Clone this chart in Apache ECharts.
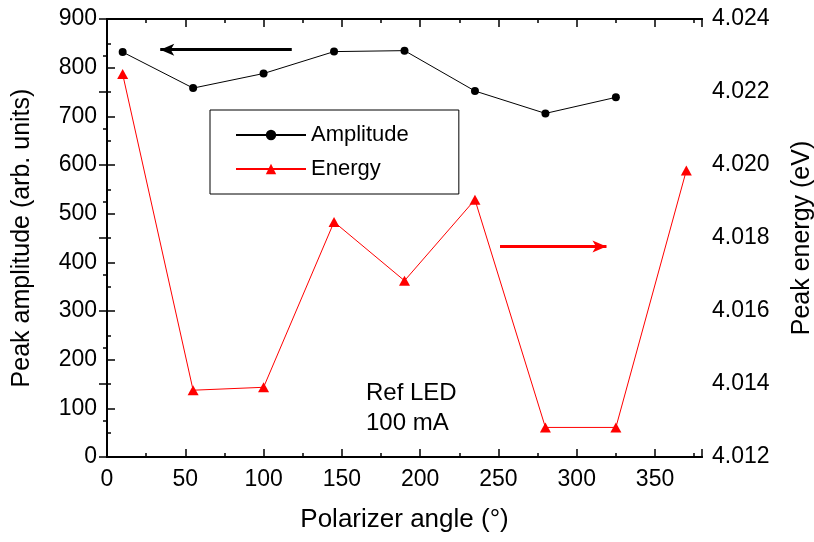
<!DOCTYPE html>
<html>
<head>
<meta charset="utf-8">
<script src="https://cdn.jsdelivr.net/npm/echarts@6/dist/echarts.min.js"></script>
<style>
html,body{margin:0;padding:0;background:#fff;}
#chart{width:814px;height:542px;}
</style>
</head>
<body>
<div id="chart"></div>
<script>
// ---- data ----
const angles = [10, 55, 100, 145, 190, 235, 280, 325, 370];
const amplitude = [832, 758, 788, 833, 835, 752, 706, 739];
const energy = [4.02249, 4.01383, 4.01391, 4.01844, 4.01683, 4.01905, 4.01281, 4.01281, 4.01985];
const seriesNames = ['Amplitude', 'Energy'];
const xTitle = 'Polarizer angle (°)';
const yLeftTitle = 'Peak amplitude (arb. units)';
const yRightTitle = 'Peak energy (eV)';
const noteLines = ['Ref LED', '100 mA'];
// arrow annotations (data coordinates)
const ampArrow = [[118, 837], [34, 837]];
const energyArrow = [[251, 4.01777], [319, 4.01777]];

const FONT = '"Liberation Sans", Arial, sans-serif';
const ampData = amplitude.map((v, i) => [angles[i], v]);
const energyData = energy.map((v, i) => [angles[i], v]);

const chart = echarts.init(document.getElementById('chart'), null, {renderer: 'canvas'});

function xAx(pos, interval, len, showLabel, showName) {
  return {
    type: 'value', position: pos, min: 0, max: 380, interval: interval,
    name: showName ? xTitle : '', nameLocation: 'middle', nameGap: 50,
    nameTextStyle: {fontFamily: FONT, fontSize: 26, color: '#000'},
    axisLine: {show: true, onZero: false, lineStyle: {color: '#000', width: 2}},
    axisTick: {show: true, inside: true, length: len, lineStyle: {color: '#000', width: 1.5}},
    axisLabel: {show: showLabel, margin: 11, fontFamily: FONT, fontSize: 23, color: '#000',
      formatter: v => (v % 50 === 0 && v <= 350) ? String(v) : ''},
    splitLine: {show: false}
  };
}

const option = {
  animation: false,
  backgroundColor: '#fff',
  grid: {left: 107, right: 112, top: 19, bottom: 85, containLabel: false, outerBoundsMode: 'none'},
  legend: {
    data: seriesNames, orient: 'vertical', left: 210, top: 110,
    borderColor: '#000', borderWidth: 1, padding: [14, 50, 14, 25],
    itemWidth: 70, itemHeight: 13, itemGap: 12,
    textStyle: {fontFamily: FONT, fontSize: 22, color: '#000'}
  },
  xAxis: [
    xAx('bottom', 50, 8, true, true),
    xAx('bottom', 25, 4, false, false),
    xAx('top', 50, 8, false, false),
    xAx('top', 25, 4, false, false)
  ],
  yAxis: [
    {
      type: 'value', position: 'left', min: 0, max: 900, interval: 100,
      name: yLeftTitle, nameLocation: 'middle', nameGap: 72,
      nameTextStyle: {fontFamily: FONT, fontSize: 25, color: '#000'},
      axisLine: {show: true, lineStyle: {color: '#000', width: 2}},
      axisTick: {show: true, inside: true, length: 8, lineStyle: {color: '#000', width: 1.5}},
      minorTick: {show: true, splitNumber: 2, length: 4, lineStyle: {color: '#000', width: 1.5}},
      axisLabel: {margin: 10, fontFamily: FONT, fontSize: 23, color: '#000'},
      splitLine: {show: false}
    },
    {
      type: 'value', position: 'right', min: 4.012, max: 4.024, interval: 0.002,
      name: yRightTitle, nameLocation: 'middle', nameGap: 88,
      nameTextStyle: {fontFamily: FONT, fontSize: 25, color: '#000'},
      axisLine: {show: true, lineStyle: {color: '#000', width: 2}},
      axisTick: {show: true, inside: true, length: 8, lineStyle: {color: '#000', width: 1.5}},
      minorTick: {show: true, splitNumber: 2, length: 4, lineStyle: {color: '#000', width: 1.5}},
      axisLabel: {margin: 10, fontFamily: FONT, fontSize: 23, color: '#000', formatter: v => v.toFixed(3)},
      splitLine: {show: false}
    }
  ],
  series: [
    {
      name: seriesNames[0], type: 'line', xAxisIndex: 0, yAxisIndex: 0,
      data: ampData, symbol: 'circle', symbolSize: 8,
      itemStyle: {color: '#000'}, lineStyle: {color: '#000', width: 1},
      markLine: {
        silent: true, symbol: ['none', 'arrow'], symbolSize: [9, 14],
        label: {show: false}, lineStyle: {color: '#000', width: 3, type: 'solid'},
        data: [[{coord: ampArrow[0]}, {coord: ampArrow[1]}]]
      }
    },
    {
      name: seriesNames[1], type: 'line', xAxisIndex: 0, yAxisIndex: 1,
      data: energyData, symbol: 'triangle', symbolSize: [11, 10],
      itemStyle: {color: '#ff0000'}, lineStyle: {color: '#ff0000', width: 1},
      markLine: {
        silent: true, symbol: ['none', 'arrow'], symbolSize: [9, 14],
        label: {show: false}, lineStyle: {color: '#ff0000', width: 3, type: 'solid'},
        data: [[{coord: energyArrow[0]}, {coord: energyArrow[1]}]]
      }
    }
  ],
  graphic: [
    {type: 'text', left: 366, top: 378, style: {text: noteLines.join('\n'), font: '24px ' + FONT, fill: '#000', lineHeight: 30}}
  ]
};
chart.setOption(option);
</script>
</body>
</html>
